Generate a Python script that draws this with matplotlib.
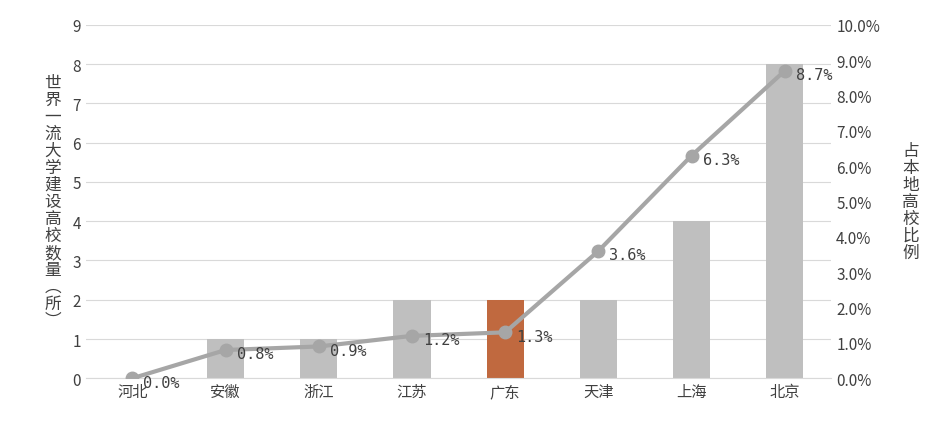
import matplotlib
matplotlib.use("Agg")
import matplotlib.pyplot as plt
from matplotlib.ticker import FuncFormatter

plt.rcParams['font.family'] = ['Noto Sans CJK SC', 'DejaVu Sans']

categories = ['河北', '安徽', '浙江', '江苏', '广东', '天津', '上海', '北京']
counts = [0, 1, 1, 2, 2, 2, 4, 8]
ratios = [0.0, 0.8, 0.9, 1.2, 1.3, 3.6, 6.3, 8.7]
highlight = '广东'

fig = plt.figure(figsize=(9.32, 4.31), dpi=100)
ax = fig.add_axes([0.092, 0.12, 0.80, 0.82])
x = range(len(categories))
colors = ['#C0693F' if c == highlight else '#BFBFBF' for c in categories]
ax.bar(x, counts, width=0.4, color=colors, zorder=2)
ax.set_ylim(0, 9)
ax.set_yticks(range(10))
ax.set_xlim(-0.5, len(categories) - 0.5)
ax.set_xticks(list(x))
ax.set_xticklabels(categories, fontsize=11, color='#404040')
ax.grid(axis='y', color='#D9D9D9', lw=0.8, zorder=0)
for s in ['top', 'left', 'right']:
    ax.spines[s].set_visible(False)
ax.spines['bottom'].set_color('#D9D9D9')
ax.tick_params(length=0, labelsize=11, colors='#404040')
ax.set_ylabel('\n'.join('世界一流大学建设高校数量') + '\n︵\n所\n︶', rotation=0,
              fontsize=12, color='#404040', va='center', labelpad=14, linespacing=1.0)

ax2 = ax.twinx()
ax2.plot(list(x), ratios, color='#A6A6A6', lw=3, marker='o', ms=9, zorder=3)
ax2.set_ylim(0, 10)
ax2.set_yticks(range(11))
ax2.yaxis.set_major_formatter(FuncFormatter(lambda v, p: f'{v:.1f}%'))
for s in ['top', 'left', 'right', 'bottom']:
    ax2.spines[s].set_visible(False)
ax2.tick_params(length=0, labelsize=11, colors='#404040')
for xi, r in zip(x, ratios):
    ax2.annotate(f'{r:.1f}%', (xi, r), xytext=(8, -6), textcoords='offset points',
                 fontsize=11, color='#404040', family='DejaVu Sans Mono')
ax2.set_ylabel('\n'.join('占本地高校比例'), rotation=0, fontsize=12, color='#404040',
               va='center', labelpad=22, linespacing=1.0)
fig.savefig('out.png', dpi=100)
